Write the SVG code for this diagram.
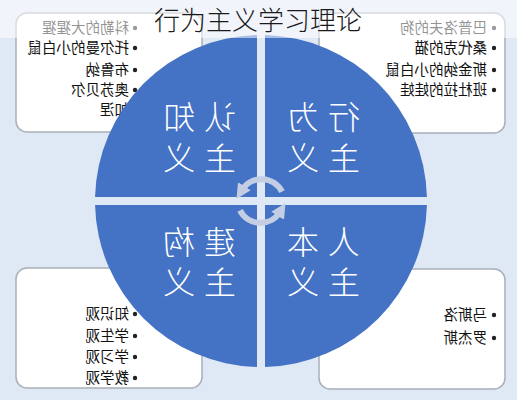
<svg xmlns="http://www.w3.org/2000/svg" width="517" height="400" viewBox="0 0 517 400">
<style>
.bg{fill:#dfe8f5}
.box{fill:#ffffff;stroke:#a9afb8;stroke-width:1.5}
.q{fill:#4472c4}
.qt{font-family:"Noto Sans CJK SC","Noto Sans",sans-serif;font-size:32px;font-weight:300;fill:#ffffff;letter-spacing:9px}
.it{font-family:"Noto Sans CJK SC","Noto Sans",sans-serif;font-size:14.5px;fill:#111111}
.dot{fill:#222222}
.arc{fill:none;stroke:#c3cde4;stroke-width:6}
.title{font-family:"Noto Sans CJK SC","Noto Sans",sans-serif;font-size:26px;font-weight:300;fill:#1a1a1a}
</style>
<defs>
<marker id="ah" viewBox="0 0 10 10" markerWidth="15" markerHeight="15" refX="3" refY="5" orient="auto" markerUnits="userSpaceOnUse">
<path d="M0,0 L10,5 L0,10 z" fill="#c3cde4"/>
</marker>
</defs>
<rect class="bg" x="0" y="0" width="517" height="400"/>

<g id="box-cognitive">
<rect class="box" x="16" y="13" width="186" height="119" rx="11"/>
<circle class="dot" cx="135" cy="28" r="2.2"/>
<text class="it" transform="translate(129,33) scale(-1,1)">科勒的大猩猩</text>
<circle class="dot" cx="135" cy="48" r="2.2"/>
<text class="it" transform="translate(129,53) scale(-1,1)">托尔曼的小白鼠</text>
<circle class="dot" cx="135" cy="70" r="2.2"/>
<text class="it" transform="translate(129,75) scale(-1,1)">布鲁纳</text>
<circle class="dot" cx="135" cy="90" r="2.2"/>
<text class="it" transform="translate(129,95) scale(-1,1)">奥苏贝尔</text>
<circle class="dot" cx="135" cy="110" r="2.2"/>
<text class="it" transform="translate(129,115) scale(-1,1)">加涅</text>
</g>

<g id="box-behavior">
<rect class="box" x="319" y="13" width="186" height="120" rx="11"/>
<circle class="dot" cx="494" cy="28" r="2.2"/>
<text class="it" transform="translate(487,33) scale(-1,1)">巴普洛夫的狗</text>
<circle class="dot" cx="494" cy="48" r="2.2"/>
<text class="it" transform="translate(487,53) scale(-1,1)">桑代克的猫</text>
<circle class="dot" cx="494" cy="70" r="2.2"/>
<text class="it" transform="translate(487,75) scale(-1,1)">斯金纳的小白鼠</text>
<circle class="dot" cx="494" cy="90" r="2.2"/>
<text class="it" transform="translate(487,95) scale(-1,1)">班杜拉的娃娃</text>
</g>

<g id="box-constructivism">
<rect class="box" x="16" y="268" width="186" height="120" rx="11"/>
<circle class="dot" cx="135" cy="314" r="2.2"/>
<text class="it" transform="translate(129,319) scale(-1,1)">知识观</text>
<circle class="dot" cx="135" cy="336" r="2.2"/>
<text class="it" transform="translate(129,341) scale(-1,1)">学生观</text>
<circle class="dot" cx="135" cy="357" r="2.2"/>
<text class="it" transform="translate(129,362) scale(-1,1)">学习观</text>
<circle class="dot" cx="135" cy="378" r="2.2"/>
<text class="it" transform="translate(129,383) scale(-1,1)">教学观</text>
</g>

<g id="box-humanism">
<rect class="box" x="319" y="269" width="186" height="120" rx="11"/>
<circle class="dot" cx="494" cy="315" r="2.2"/>
<text class="it" transform="translate(487,320) scale(-1,1)">马斯洛</text>
<circle class="dot" cx="494" cy="338" r="2.2"/>
<text class="it" transform="translate(487,343) scale(-1,1)">罗杰斯</text>
</g>

<g id="q-cognitive">
<path class="q" d="M257,197 L257,35.05 A166,166 0 0 0 95.05,197 Z"/>
<text class="qt" transform="translate(236,129) scale(-1,1)"><tspan x="0" y="0">认知</tspan><tspan x="0" y="41">主义</tspan></text>
</g>
<g id="q-behavior">
<path class="q" d="M265,197 L265,35.05 A166,166 0 0 1 426.95,197 Z"/>
<text class="qt" transform="translate(360,129) scale(-1,1)"><tspan x="0" y="0">行为</tspan><tspan x="0" y="41">主义</tspan></text>
</g>
<g id="q-constructivism">
<path class="q" d="M257,205 L95.05,205 A166,166 0 0 0 257,366.95 Z"/>
<text class="qt" transform="translate(236,254) scale(-1,1)"><tspan x="0" y="0">建构</tspan><tspan x="0" y="40">主义</tspan></text>
</g>
<g id="q-humanism">
<path class="q" d="M265,205 L426.95,205 A166,166 0 0 1 265,366.95 Z"/>
<text class="qt" transform="translate(360,254) scale(-1,1)"><tspan x="0" y="0">人本</tspan><tspan x="0" y="40">主义</tspan></text>
</g>

<g id="connectors">
<path class="arc" d="M282,191.7 A23,23 0 0 0 242,190" marker-end="url(#ah)"/>
<path class="arc" d="M240,210.3 A23,23 0 0 0 280,212" marker-end="url(#ah)"/>
</g>

<rect x="0" y="0" width="517" height="38" fill="#ffffff" fill-opacity="0.55"/>
<g id="title">
<text class="title" x="258" y="30" text-anchor="middle">行为主义学习理论</text>
</g>
</svg>
